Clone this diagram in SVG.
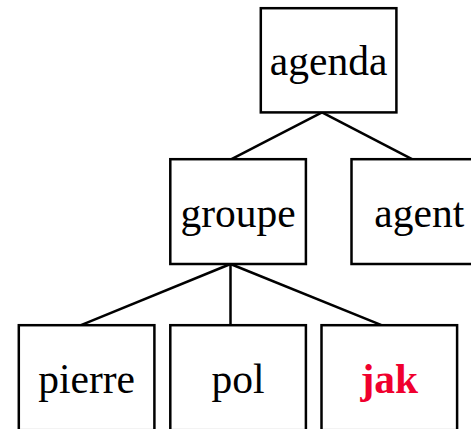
<svg xmlns="http://www.w3.org/2000/svg" width="471" height="429" viewBox="0 0 471 429">
<style>
.box{fill:#fff;stroke:#000;stroke-width:2.5}
.lbl{font-family:"Liberation Serif","Times New Roman",serif;font-size:41.5px;text-anchor:middle;fill:#000}
.red{fill:#f0002e;font-weight:bold}
.edge{stroke:#000;stroke-width:2.5;fill:none}
</style>
<rect width="471" height="429" fill="#fff"/>
<g id="connectors">
<line class="edge" x1="322" y1="112.4" x2="231.5" y2="159.2"/>
<line class="edge" x1="322" y1="112.4" x2="412" y2="159.2"/>
<line class="edge" x1="230.5" y1="264" x2="81" y2="325.2"/>
<line class="edge" x1="230.5" y1="264" x2="230.5" y2="325.2"/>
<line class="edge" x1="230.5" y1="264" x2="381.5" y2="325.2"/>
</g>
<g id="agenda"><rect class="box" x="260.8" y="8.2" width="135.6" height="104.2"/><text class="lbl" x="328.6" y="75">agenda</text></g>
<g id="groupe"><rect class="box" x="170.3" y="159.2" width="135.6" height="104.8"/><text class="lbl" x="238.1" y="227">groupe</text></g>
<g id="agent"><rect class="box" x="351.5" y="159.2" width="135.6" height="104.8"/><text class="lbl" x="419.3" y="227">agent</text></g>
<g id="pierre"><rect class="box" x="18.8" y="325.2" width="135.6" height="105"/><text class="lbl" x="86.6" y="393">pierre</text></g>
<g id="pol"><rect class="box" x="170.3" y="325.2" width="135.6" height="105"/><text class="lbl" x="238.1" y="393">pol</text></g>
<g id="jak"><rect class="box" x="321.5" y="325.2" width="135.6" height="105"/><text class="lbl red" x="389.3" y="393">jak</text></g>
</svg>
